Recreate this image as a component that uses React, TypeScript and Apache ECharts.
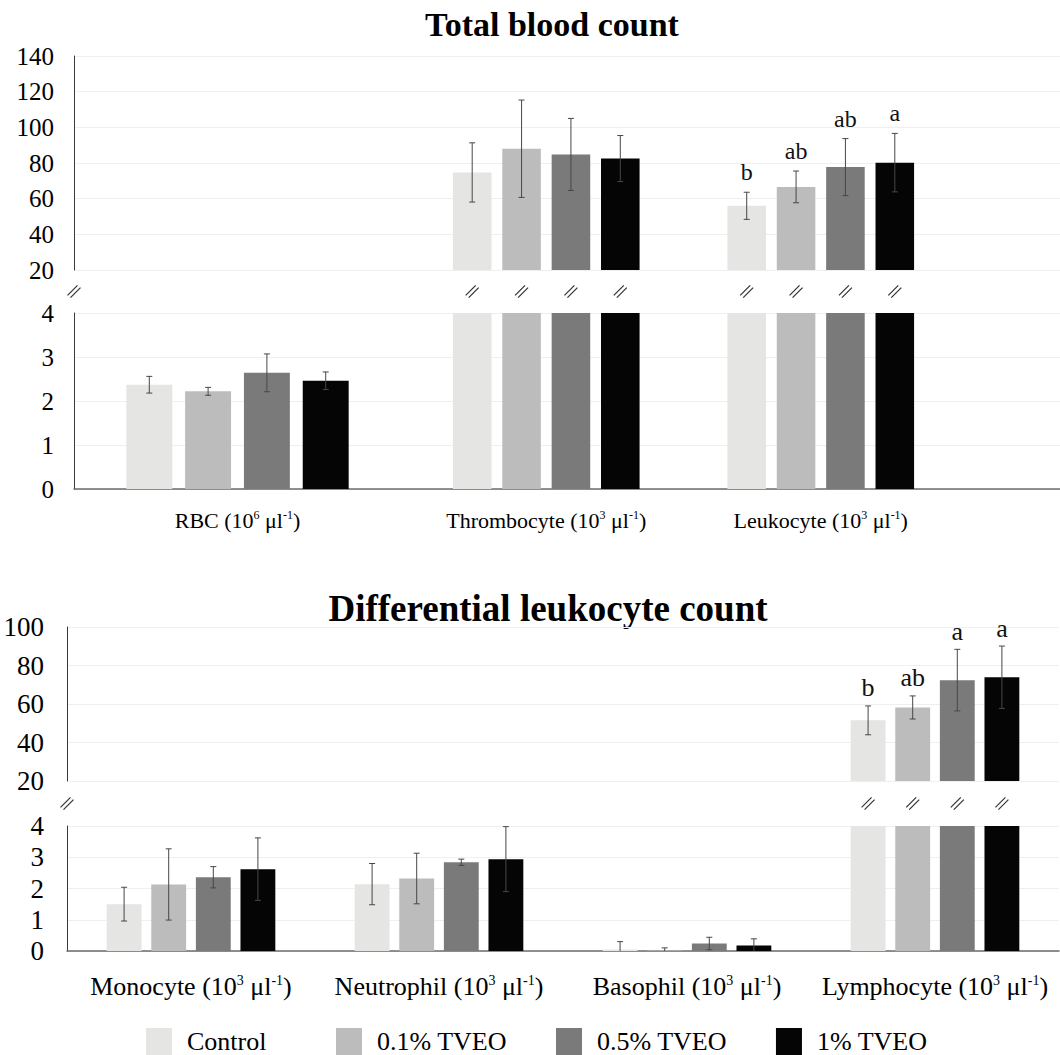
import React, { useEffect, useRef } from 'react';
import * as echarts from 'echarts';

const SERIF = 'Liberation Serif, Times New Roman, serif';

const treatments = ['Control', '0.1% TVEO', '0.5% TVEO', '1% TVEO'];
const barColors = ['#e5e5e4', '#bcbcbc', '#7a7a7a', '#050505'];

// Total blood count (means and SD per treatment, in order of totalCells)
const totalCells = ['RBC', 'Thrombocyte', 'Leukocyte'];
const totalExponents = ['6', '3', '3'];
const totalControl = [2.37, 74.7, 56.0];
const total01 = [2.22, 88.0, 66.6];
const total05 = [2.64, 84.8, 77.7];
const total1 = [2.46, 82.5, 80.2];
const totalControlSd = [0.19, 16.6, 7.6];
const total01Sd = [0.09, 27.3, 8.9];
const total05Sd = [0.43, 20.2, 16.0];
const total1Sd = [0.2, 12.9, 16.4];
const totalLetters = [
  ['', '', 'b'],
  ['', '', 'ab'],
  ['', '', 'ab'],
  ['', '', 'a'],
];

// Differential leukocyte count
const diffCells = ['Monocyte', 'Neutrophil', 'Basophil', 'Lymphocyte'];
const diffExponents = ['3', '3', '3', '3'];
const diffControl = [1.5, 2.14, 0.05, 51.5];
const diff01 = [2.13, 2.32, 0.02, 58.2];
const diff05 = [2.36, 2.84, 0.24, 72.4];
const diff1 = [2.62, 2.94, 0.18, 73.9];
const diffControlSd = [0.54, 0.66, 0.25, 7.5];
const diff01Sd = [1.14, 0.81, 0.08, 6.0];
const diff05Sd = [0.34, 0.1, 0.2, 16.0];
const diff1Sd = [1.0, 1.04, 0.21, 16.2];
const diffLetters = [
  ['', '', '', 'b'],
  ['', '', '', 'ab'],
  ['', '', '', 'a'],
  ['', '', '', 'a'],
];

const totalMeans = [totalControl, total01, total05, total1];
const totalSds = [totalControlSd, total01Sd, total05Sd, total1Sd];
const diffMeans = [diffControl, diff01, diff05, diff1];
const diffSds = [diffControlSd, diff01Sd, diff05Sd, diff1Sd];

const CAT_GAP = 0.32;
const BAR_GAP = 0.28;
const ERR_COLOR = '#474747';
const MARK_COLOR = '#333333';
const GRID_COLOR = '#efefef';

// Two short parallel strokes marking a broken axis or bar
function breakMark(cx: number, cy: number) {
  const style = { stroke: MARK_COLOR, lineWidth: 1.2 };
  return [
    { type: 'line', shape: { x1: cx - 6.5, y1: cy + 3.8, x2: cx + 3.5, y2: cy - 6.2 }, style },
    { type: 'line', shape: { x1: cx - 3.5, y1: cy + 6.2, x2: cx + 6.5, y2: cy - 3.8 }, style },
  ];
}

type PanelText = { letterSize: number; letterGap: number; breakGap: number };

function errorRenderer(t: number, letters: string[], pt: PanelText) {
  return (params: any, api: any) => {
    const cs = params.coordSys;
    const idx = api.value(0);
    const mean = api.value(1);
    const sd = api.value(2);
    const band = api.size([1, 0])[0];
    const barW = (band * (1 - CAT_GAP)) / (4 + 3 * BAR_GAP);
    const base = api.coord([idx, mean]);
    const cx = base[0] + (t - 1.5) * barW * (1 + BAR_GAP);
    const top = cs.y;
    const bottom = cs.y + cs.height;
    const yMean = base[1];
    if (yMean < top - 0.5) {
      return { type: 'group', children: breakMark(cx, top - pt.breakGap) };
    }
    if (yMean > bottom + 0.5) return null;
    const yHi = api.coord([idx, mean + sd])[1];
    const yLoRaw = api.coord([idx, mean - sd])[1];
    const yLo = Math.min(yLoRaw, bottom);
    const style = { stroke: ERR_COLOR, lineWidth: 1 };
    const children: any[] = [
      { type: 'line', shape: { x1: cx, y1: yHi, x2: cx, y2: yLo }, style },
      { type: 'line', shape: { x1: cx - 3, y1: yHi, x2: cx + 3, y2: yHi }, style },
    ];
    if (yLoRaw <= bottom) {
      children.push({ type: 'line', shape: { x1: cx - 3, y1: yLo, x2: cx + 3, y2: yLo }, style });
    }
    const letter = letters[params.dataIndex];
    if (letter) {
      children.push({
        type: 'text',
        x: cx,
        y: yHi - pt.letterGap,
        style: {
          text: letter,
          fill: '#111',
          fontSize: pt.letterSize,
          fontFamily: SERIF,
          align: 'center',
          verticalAlign: 'bottom',
        },
      });
    }
    return { type: 'group', children };
  };
}

function panelSeries(
  axis: number,
  cols: number[],
  means: number[][],
  sds: number[][],
  letters: string[][],
  pt: PanelText
) {
  const out: any[] = [];
  treatments.forEach((name, t) => {
    out.push({
      type: 'bar',
      name,
      xAxisIndex: axis,
      yAxisIndex: axis,
      data: cols.map((c) => means[t][c]),
      barGap: `${BAR_GAP * 100}%`,
      barCategoryGap: `${CAT_GAP * 100}%`,
      itemStyle: { color: barColors[t] },
      clip: true,
      z: 2,
    });
  });
  treatments.forEach((name, t) => {
    out.push({
      type: 'custom',
      name: `${name} SD`,
      xAxisIndex: axis,
      yAxisIndex: axis,
      encode: { x: 0, y: 1 },
      z: 3,
      data: cols.map((c, i) => [i, means[t][c], sds[t][c]]),
      renderItem: errorRenderer(t, cols.map((c) => letters[t][c]), pt),
    });
  });
  return out;
}

function unitFormatter(names: string[], exps: string[]) {
  return (value: string) => `${value} (10{sup|${exps[names.indexOf(value)]}} μl{sup|-1})`;
}

function catLabel(names: string[], exps: string[], fontSize: number, margin: number) {
  return {
    show: true,
    interval: 0,
    color: '#000',
    fontFamily: SERIF,
    fontSize,
    margin,
    formatter: unitFormatter(names, exps),
    rich: {
      sup: { fontSize: Math.round(fontSize * 0.55), fontFamily: SERIF, color: '#000', verticalAlign: 'top' },
    },
  };
}

function valueAxis(grid: number, min: number, max: number, interval: number, fontSize: number, margin: number) {
  return {
    type: 'value',
    gridIndex: grid,
    min,
    max,
    interval,
    axisLine: { show: true, lineStyle: { color: '#3a3a3a', width: 1 } },
    axisTick: { show: false },
    axisLabel: { color: '#000', fontFamily: SERIF, fontSize, margin },
    splitLine: { show: true, lineStyle: { color: GRID_COLOR, width: 1 } },
  };
}

function hiddenValueAxis(grid: number, min: number, max: number) {
  return { type: 'value', gridIndex: grid, min, max, show: false };
}

function legendBlock(names: string[], left: number) {
  return {
    data: names,
    left,
    top: 1023,
    icon: 'rect',
    itemWidth: 26,
    itemHeight: 27,
    itemGap: 49,
    selectedMode: false,
    textStyle: { fontFamily: SERIF, fontSize: 26, color: '#000', padding: [0, 0, 0, 10] },
  };
}

function buildOption(): any {
  const tlCols = [1, 2];
  const tlNames = tlCols.map((c) => totalCells[c]);
  const totalText: PanelText = { letterSize: 24, letterGap: 8, breakGap: 21.5 };
  const diffText: PanelText = { letterSize: 26, letterGap: 5, breakGap: 22.5 };

  const grid = [
    { left: 74, top: 56, width: 986, height: 214 }, // 0 total upper frame
    { left: 409, top: 56, width: 549, height: 214 }, // 1 total upper bars
    { left: 74, top: 313, width: 986, height: 176 }, // 2 total lower frame
    { left: 74, top: 313, width: 327, height: 176 }, // 3 RBC bars
    { left: 409, top: 313, width: 549, height: 176 }, // 4 thrombocyte/leukocyte bars
    { left: 67, top: 627, width: 992, height: 154 }, // 5 differential upper
    { left: 67, top: 826, width: 992, height: 125 }, // 6 differential lower
  ];

  const xAxis = [
    { type: 'value', gridIndex: 0, min: 0, max: 1, show: false },
    { type: 'category', gridIndex: 1, data: tlNames, show: false },
    {
      type: 'value',
      gridIndex: 2,
      min: 0,
      max: 1,
      axisLine: { show: true, lineStyle: { color: '#6b6b6b', width: 1.5 } },
      axisTick: { show: false },
      axisLabel: { show: false },
      splitLine: { show: false },
    },
    {
      type: 'category',
      gridIndex: 3,
      data: [totalCells[0]],
      axisLine: { show: false },
      axisTick: { show: false },
      axisLabel: catLabel(totalCells, totalExponents, 22, 20),
    },
    {
      type: 'category',
      gridIndex: 4,
      data: tlNames,
      axisLine: { show: false },
      axisTick: { show: false },
      axisLabel: catLabel(totalCells, totalExponents, 22, 20),
    },
    { type: 'category', gridIndex: 5, data: diffCells, show: false },
    {
      type: 'category',
      gridIndex: 6,
      data: diffCells,
      axisLine: { show: true, lineStyle: { color: '#6b6b6b', width: 1.5 } },
      axisTick: { show: false },
      axisLabel: catLabel(diffCells, diffExponents, 26, 22),
    },
  ];

  const yAxis = [
    valueAxis(0, 20, 140, 20, 25, 20),
    hiddenValueAxis(1, 20, 140),
    valueAxis(2, 0, 4, 1, 25, 20),
    hiddenValueAxis(3, 0, 4),
    hiddenValueAxis(4, 0, 4),
    valueAxis(5, 20, 100, 20, 27, 23),
    valueAxis(6, 0, 4, 1, 27, 23),
  ];

  const series = [
    ...panelSeries(1, tlCols, totalMeans, totalSds, totalLetters, totalText),
    ...panelSeries(3, [0], totalMeans, totalSds, totalLetters, totalText),
    ...panelSeries(4, tlCols, totalMeans, totalSds, totalLetters, totalText),
    ...panelSeries(5, [0, 1, 2, 3], diffMeans, diffSds, diffLetters, diffText),
    ...panelSeries(6, [0, 1, 2, 3], diffMeans, diffSds, diffLetters, diffText),
  ];

  return {
    animation: false,
    backgroundColor: '#ffffff',
    textStyle: { fontFamily: SERIF },
    grid,
    xAxis,
    yAxis,
    series,
    legend: [legendBlock([treatments[0]], 141), legendBlock(treatments.slice(1), 331)],
    graphic: [
      {
        type: 'text',
        x: 552,
        y: 7,
        style: {
          text: 'Total blood count',
          fill: '#000',
          fontFamily: SERIF,
          fontSize: 34,
          fontWeight: 'bold',
          align: 'center',
          verticalAlign: 'top',
        },
      },
      {
        type: 'text',
        x: 548,
        y: 590,
        style: {
          text: 'Differential leukocyte count',
          fill: '#000',
          fontFamily: SERIF,
          fontSize: 37,
          fontWeight: 'bold',
          align: 'center',
          verticalAlign: 'top',
        },
      },
      { type: 'group', children: breakMark(74, 291.5) },
      { type: 'group', children: breakMark(67, 803.5) },
    ],
  };
}

export default function App() {
  const ref = useRef<HTMLDivElement>(null);
  useEffect(() => {
    document.body.style.margin = '0';
    const chart = echarts.init(ref.current as HTMLDivElement, undefined, { renderer: 'svg' });
    chart.setOption(buildOption());
    return () => chart.dispose();
  }, []);
  return <div ref={ref} style={{ width: 1060, height: 1055 }} />;
}
